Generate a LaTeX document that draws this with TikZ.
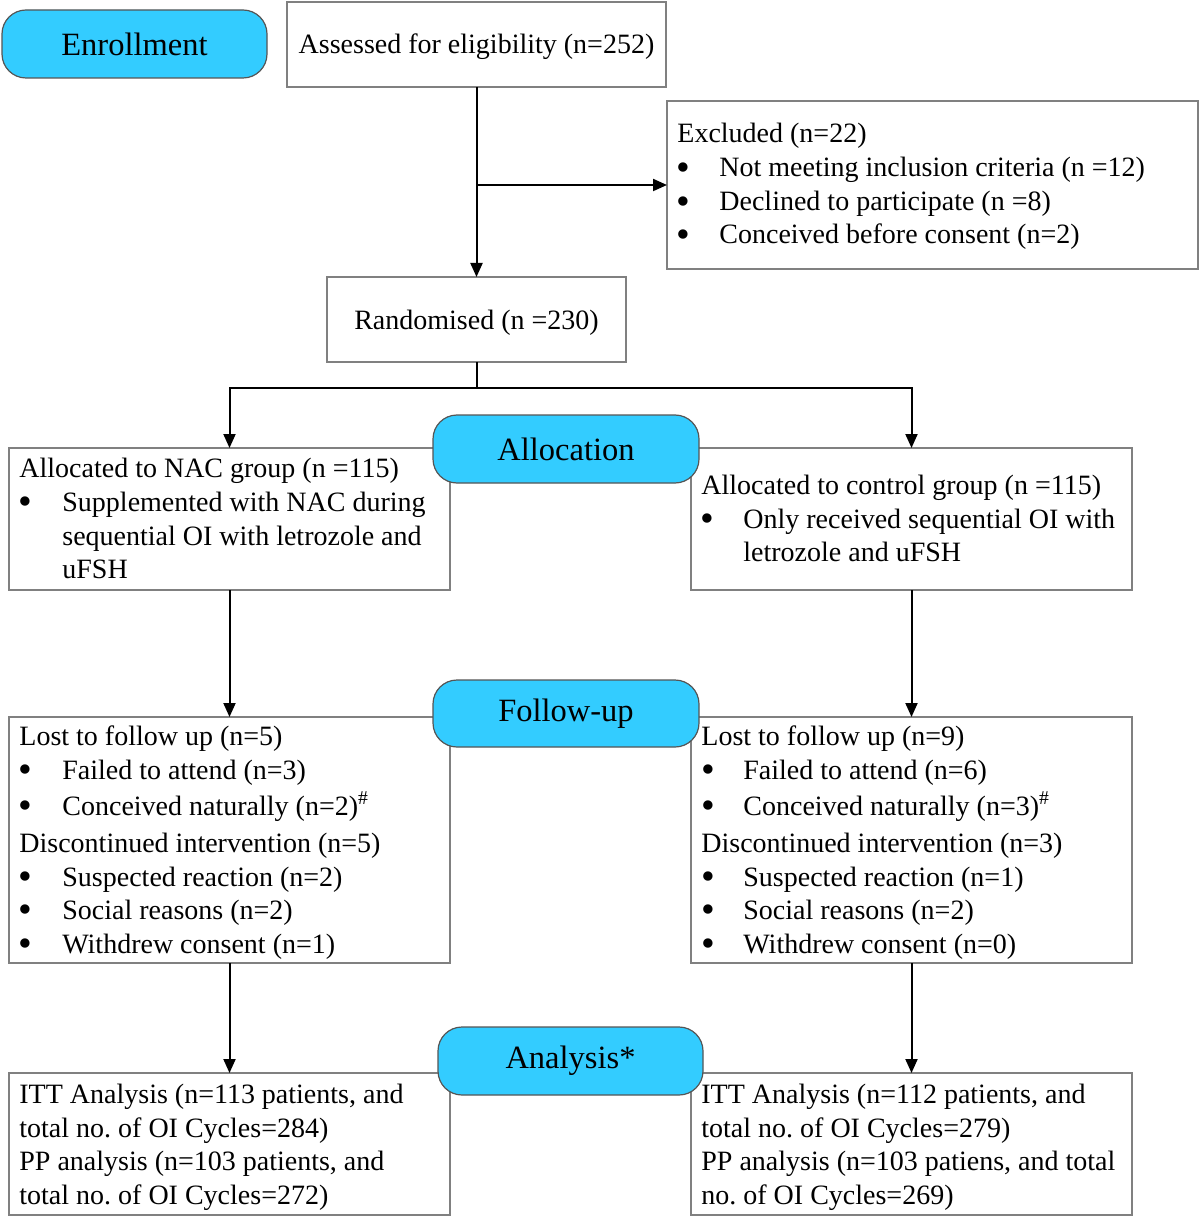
\documentclass[tikz,border=0pt]{standalone}
\usepackage{fontspec}
\setmainfont{Liberation Serif}
\usetikzlibrary{arrows.meta}
\definecolor{labcyan}{RGB}{51,204,255}
\definecolor{boxgray}{RGB}{128,128,128}
\definecolor{labgray}{RGB}{85,85,85}
\newcommand\mkline[4]{\node[txt] (#1) at (#2,#3) {#4};}
\newcommand\mkbul[5]{\node[bul] (#1b) at (#2,#4) {\raisebox{-1.6pt}{\scalebox{1.4}{\textbullet}}}; \node[txt] (#1) at (#3,#4) {#5};}
\begin{document}
\frenchspacing
\begin{tikzpicture}[x=0.5pt,y=-0.5pt,
  box/.style={draw=boxgray, line width=0.75pt, anchor=north west, inner sep=0pt, outer sep=0pt, rectangle},
  lab/.style={draw=labgray, fill=labcyan, rounded corners=12pt, line width=0.6pt, inner sep=0pt, outer sep=0pt, font=\fontsize{16.25}{19}\selectfont},
  txt/.style={anchor=base west, inner sep=0pt, font=\fontsize{14}{17}\selectfont},
  bul/.style={anchor=base, inner sep=0pt, font=\fontsize{14}{17}\selectfont},
  ctxt/.style={anchor=base, inner sep=0pt, font=\fontsize{14}{17}\selectfont},
  arr/.style={line width=1pt, -{Triangle[length=7pt,width=6pt]}}]
\useasboundingbox (0,0) rectangle (1200,1219);
% boxes
\node[box, minimum width=189.5pt, minimum height=42.5pt] (assess) at (287,2) {};
\node[box, minimum width=265.5pt, minimum height=84pt] (excl) at (667,101) {};
\node[box, minimum width=149.5pt, minimum height=42.5pt] (rand) at (327,277) {};
\node[box, minimum width=220.5pt, minimum height=71pt] (nac) at (9,448) {};
\node[box, minimum width=220.5pt, minimum height=71pt] (ctrl) at (691,448) {};
\node[box, minimum width=220.5pt, minimum height=123pt] (fl) at (9,717) {};
\node[box, minimum width=220.5pt, minimum height=123pt] (fr) at (691,717) {};
\node[box, minimum width=220.5pt, minimum height=71pt] (al) at (9,1073) {};
\node[box, minimum width=220.5pt, minimum height=71pt] (ar) at (691,1073) {};
% connectors
\coordinate (br) at (476.5,185);
\coordinate (sp) at (476.5,388);
\draw[arr] (assess.south) -- (rand.north);
\draw[arr] (br) -- (br -| excl.west);
\draw[line width=1pt] (rand.south) -- (sp);
\draw[arr] (sp) -| (nac.north);
\draw[arr] (sp) -| (ctrl.north);
\draw[arr] (nac.south) -- (fl.north);
\draw[arr] (ctrl.south) -- (fr.north);
\draw[arr] (fl.south) -- (al.north);
\draw[arr] (fr.south) -- (ar.north);
% stage labels
\node[lab, minimum width=132.5pt, minimum height=34pt] (enr) at (134.5,44) {Enrollment};
\node[lab, minimum width=133pt, minimum height=34pt] (alloc) at (566,449) {Allocation};
\node[lab, minimum width=133pt, minimum height=33.5pt] (follow) at (566,713.5) {Follow-up};
\node[lab, minimum width=132.5pt, minimum height=34pt] (anal) at (570.5,1061) {Analysis*};
% texts
\node[ctxt] (assesst) at (476.5,54) {Assessed for eligibility (n=252)};
\node[ctxt] (randt) at (476.5,329) {Randomised (n =230)};
\mkline{ex0}{677}{143}{Excluded (n=22)}
\mkbul{ex1}{683}{719}{177}{Not meeting inclusion criteria (n =12)}
\mkbul{ex2}{683}{719}{211}{Declined to participate (n =8)}
\mkbul{ex3}{683}{719}{244}{Conceived before consent (n=2)}
\mkline{na0}{19}{477}{Allocated to NAC group (n =115)}
\mkbul{na1}{25}{62}{511}{Supplemented with NAC during}
\mkline{na2}{62}{545}{sequential OI with letrozole and}
\mkline{na3}{62}{578}{uFSH}
\mkline{co0}{701}{494}{Allocated to control group (n =115)}
\mkbul{co1}{707}{743}{528}{Only received sequential OI with}
\mkline{co2}{743}{561}{letrozole and uFSH}
\mkline{fl0}{19}{745}{Lost to follow up (n=5)}
\mkbul{fl1}{25}{62}{779}{Failed to attend (n=3)}
\mkbul{fl2}{25}{62}{815}{Conceived naturally (n=2)\textsuperscript{\#}}
\mkline{fl3}{19}{852}{Discontinued intervention (n=5)}
\mkbul{fl4}{25}{62}{886}{Suspected reaction (n=2)}
\mkbul{fl5}{25}{62}{919}{Social reasons (n=2)}
\mkbul{fl6}{25}{62}{953}{Withdrew consent (n=1)}
\mkline{fr0}{701}{745}{Lost to follow up (n=9)}
\mkbul{fr1}{708}{743}{779}{Failed to attend (n=6)}
\mkbul{fr2}{708}{743}{815}{Conceived naturally (n=3)\textsuperscript{\#}}
\mkline{fr3}{701}{852}{Discontinued intervention (n=3)}
\mkbul{fr4}{708}{743}{886}{Suspected reaction (n=1)}
\mkbul{fr5}{708}{743}{919}{Social reasons (n=2)}
\mkbul{fr6}{708}{743}{953}{Withdrew consent (n=0)}
\mkline{al0}{19}{1103}{ITT Analysis (n=113 patients, and}
\mkline{al1}{19}{1137}{total no. of OI Cycles=284)}
\mkline{al2}{19}{1170}{PP analysis (n=103 patients, and}
\mkline{al3}{19}{1204}{total no. of OI Cycles=272)}
\mkline{ar0}{701}{1103}{ITT Analysis (n=112 patients, and}
\mkline{ar1}{701}{1137}{total no. of OI Cycles=279)}
\mkline{ar2}{701}{1170}{PP analysis (n=103 patiens, and total}
\mkline{ar3}{701}{1204}{no. of OI Cycles=269)}
\end{tikzpicture}
\end{document}
